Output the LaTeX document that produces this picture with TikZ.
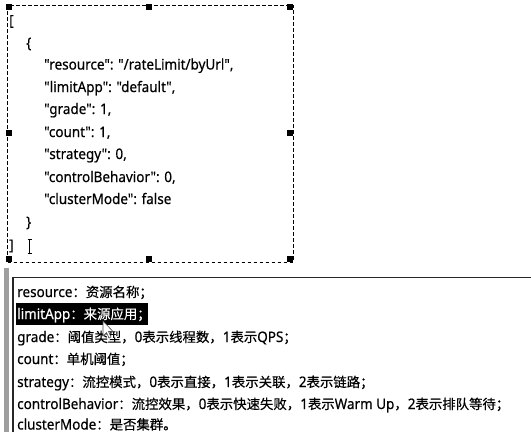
\documentclass[tikz,border=0pt]{standalone}
\usepackage{fontspec}
\setmainfont{Noto Sans}[FakeStretch=0.93, FakeBold=0.4, Ligatures=TeXOff]
\newfontfamily\cjfont{Noto Sans CJK SC}[FakeBold=0.4]
\newcommand\zh[1]{{\cjfont\fontsize{13.4}{16}\selectfont #1}}
\begin{document}
\begin{tikzpicture}[x=1pt,y=-1pt,
  txt/.style={anchor=base west, inner sep=0pt, font=\fontsize{14.5}{16}\selectfont},
  handle/.style={fill=black, minimum size=6pt, inner sep=0pt, draw=none},
  frame/.style={draw=black, line width=1pt, dash pattern=on 3.5pt off 2.5pt},
  hl/.style={fill=black, draw=none},
  panel/.style={draw=black!85, line width=1.2pt},
  bar/.style={fill=black!38, draw=none}
  ]
\useasboundingbox (0,0) rectangle (531,432);
\fill[white] (0,0) rectangle (531,432);
% selection frame
\node[frame, inner sep=0pt, minimum width=285.5pt, minimum height=257pt, anchor=north west] (frm) at (7,4.5) {};
\node[handle] (h1) at (8.5,6.5) {};
\node[handle] (h2) at (149,6.5) {};
\node[handle] (h3) at (289.5,6.5) {};
\node[handle] (h4) at (9,133) {};
\node[handle] (h5) at (289.5,133) {};
\node[handle] (h6) at (9,258.5) {};
\node[handle] (h7) at (149,258.5) {};
\node[handle] (h8) at (289.5,258.5) {};
% JSON text
\node[txt] (j0) at (9,25.5) {[};
\node[txt] (j1) at (26,48) {\{};
\node[txt] (j2) at (44,69.5) {"resource": "/rateLimit/byUrl",};
\node[txt] (j3) at (44,92) {"limitApp": "default",};
\node[txt] (j4) at (44,114) {"grade": 1,};
\node[txt] (j5) at (44,137) {"count": 1,};
\node[txt] (j6) at (44,159) {"strategy": 0,};
\node[txt] (j7) at (44,182) {"controlBehavior": 0,};
\node[txt] (j8) at (44,204) {"clusterMode": false};
\node[txt] (j9) at (26,227) {\}};
\node[txt] (j10) at (9,250) {]};
% I-beam cursor
\draw[line width=0.8pt] (27.5,239) -- (31.5,239) (29.5,239) -- (29.5,253) (27.5,253) -- (31.5,253);
% lower panel
\fill[bar] (4,268) rectangle (9,432);
\draw[panel] (13,432) -- (13,277.5) -- (531,277.5);
\fill[hl] (16,303) rectangle (148,325);
\node[txt] (d1) at (17,297) {resource\zh{：资源名称；}};
\node[txt, text=white] (d2) at (17,319) {limitApp\zh{：来源应用；}};
\node[txt] (d3) at (17,342) {grade\zh{：阈值类型，}0\zh{表示线程数，}1\zh{表示}QPS\zh{；}};
\node[txt] (d4) at (17,364) {count\zh{：单机阈值；}};
\node[txt] (d5) at (17,387) {strategy\zh{：流控模式，}0\zh{表示直接，}1\zh{表示关联，}2\zh{表示链路；}};
\node[txt] (d6) at (17,409) {controlBehavior\zh{：流控效果，}0\zh{表示快速失败，}1\zh{表示}Warm Up\zh{，}2\zh{表示排队等待；}};
\node[txt] (d7) at (17,429.5) {clusterMode\zh{：是否集群。}};
% mouse pointer
\draw[fill=white, draw=black!70, line width=0.6pt] (103,321) -- (103,336) -- (106.5,332.5) -- (109,338) -- (111,337) -- (108.5,331.5) -- (113,331.5) -- cycle;
\end{tikzpicture}
\end{document}
